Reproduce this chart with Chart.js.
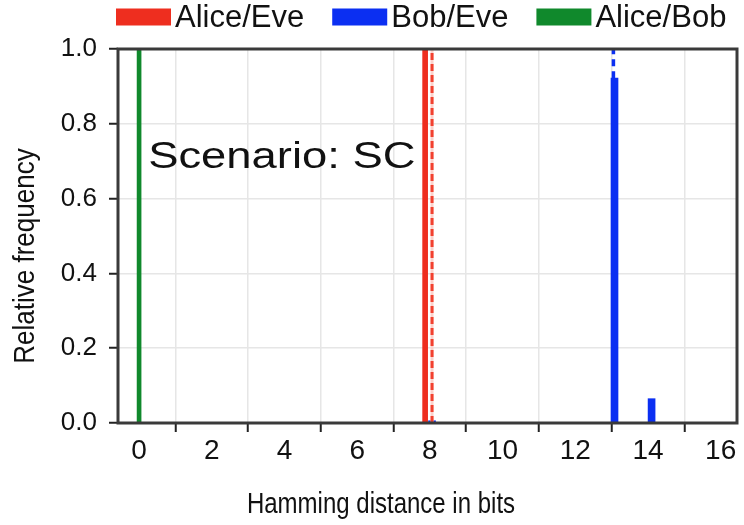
<!DOCTYPE html>
<html><head><meta charset="utf-8">
<script src="https://cdn.jsdelivr.net/npm/chart.js@4/dist/chart.umd.min.js"></script>
<style>html,body{margin:0;padding:0;background:#fff;}#wrap{width:744px;height:525px;position:relative}</style>
</head><body><div id="wrap"><canvas id="c" width="744" height="525"></canvas></div>
<script>
// ---- data ----
const seriesNames = ['Alice/Eve', 'Bob/Eve', 'Alice/Bob'];
const seriesColors = ['#ee2e1f', '#0b2ff2', '#10892c'];
const aliceEveX = [7.87];
const aliceEveY = [1.0];
const bobEveX = [8.06, 13.08, 14.1];
const bobEveY = [0.006, 0.922, 0.065];
const aliceBobX = [0];
const aliceBobY = [1.0];
const aliceEveDashX = [8.06, 8.06];
const aliceEveDashY = [0, 1.0];
const bobEveDashX = [13.05, 13.05];
const bobEveDashY = [0.922, 1.0];
const xTickValues = [0, 2, 4, 6, 8, 10, 12, 14, 16];
const yTickValues = [0, 0.2, 0.4, 0.6, 0.8, 1.0];
const xTitle = 'Hamming distance in bits';
const yTitle = 'Relative frequency';
const annotationText = 'Scenario: SC';

const FONT = "'Liberation Sans', Arial, sans-serif";
const pts = (xs, ys) => xs.map((x, i) => ({x: x, y: ys[i]}));

const framePlugin = {
  id: 'frame',
  afterDatasetsDraw(chart) {
    const {ctx, chartArea: a} = chart;
    ctx.save();
    ctx.strokeStyle = '#3a3a3a';
    ctx.lineWidth = 3;
    ctx.strokeRect(a.left, a.top, a.right - a.left, a.bottom - a.top);
    ctx.restore();
  }
};

const legendPlugin = {
  id: 'customLegend',
  afterDraw(chart) {
    const ctx = chart.ctx;
    ctx.save();
    ctx.font = '31px ' + FONT;
    ctx.textBaseline = 'middle';
    let x = 116;
    const y = 17, boxW = 55, boxH = 17;
    seriesNames.forEach((name, i) => {
      ctx.fillStyle = seriesColors[i];
      ctx.fillRect(x, y - boxH / 2, boxW, boxH);
      x += boxW + 4;
      ctx.fillStyle = '#111';
      ctx.fillText(name, x, y + 1);
      x += ctx.measureText(name).width + 28;
    });
    ctx.restore();
  }
};

const textPlugin = {
  id: 'texts',
  afterDraw(chart) {
    const ctx = chart.ctx;
    const xs = chart.scales.x, ys = chart.scales.y;
    ctx.save();
    ctx.fillStyle = '#111';
    // annotation
    ctx.save();
    ctx.font = '36px ' + FONT;
    ctx.textBaseline = 'alphabetic';
    ctx.translate(xs.getPixelForValue(0.25), ys.getPixelForValue(0.681));
    ctx.scale(1.26, 1);
    ctx.fillText(annotationText, 0, 0);
    ctx.restore();
    // x title
    ctx.save();
    ctx.font = '24px ' + FONT;
    ctx.textAlign = 'center';
    ctx.textBaseline = 'middle';
    ctx.translate(381, 505);
    ctx.scale(1, 1.25);
    ctx.fillText(xTitle, 0, 0);
    ctx.restore();
    // y title
    ctx.save();
    ctx.font = '26px ' + FONT;
    ctx.textAlign = 'center';
    ctx.textBaseline = 'middle';
    ctx.translate(26, 256);
    ctx.rotate(-Math.PI / 2);
    ctx.scale(1, 1.15);
    ctx.fillText(yTitle, 0, 0);
    ctx.restore();
    ctx.restore();
  }
};

new Chart(document.getElementById('c'), {
  type: 'bar',
  data: {
    datasets: [
      {type: 'line', data: pts(aliceEveDashX, aliceEveDashY), borderColor: '#f2402f', borderWidth: 3, borderDash: [7, 4], pointRadius: 0},
      {type: 'line', data: pts(aliceEveDashX, aliceEveDashY), borderColor: '#fcd2cc', borderWidth: 3, pointRadius: 0},
      {type: 'line', data: pts(bobEveDashX, bobEveDashY), borderColor: seriesColors[1], borderWidth: 3.5, borderDash: [7, 5], pointRadius: 0},
      {label: seriesNames[0], data: pts(aliceEveX, aliceEveY), backgroundColor: seriesColors[0], barThickness: 5, grouped: false},
      {label: seriesNames[1], data: pts(bobEveX, bobEveY), backgroundColor: seriesColors[1], barThickness: 7, grouped: false},
      {label: seriesNames[2], data: pts(aliceBobX, aliceBobY), backgroundColor: seriesColors[2], barThickness: 4, grouped: false}
    ]
  },
  options: {
    responsive: false,
    animation: false,
    layout: {padding: {top: 49, right: 7, left: 0, bottom: 0}},
    plugins: {legend: {display: false}, tooltip: {enabled: false}},
    scales: {
      x: {
        type: 'linear', min: -0.58, max: 16.45, offset: false,
        afterBuildTicks: s => { s.ticks = xTickValues.map(v => ({value: v})); },
        afterFit: s => { s.height = 102; },
        grid: {color: '#e6e6e6', lineWidth: 1.5, tickColor: '#222', tickLength: 9, tickWidth: 2},
        border: {display: false},
        ticks: {font: {family: FONT, size: 28}, color: '#111', padding: 2, maxRotation: 0}
      },
      y: {
        min: 0, max: 1,
        afterBuildTicks: s => { s.ticks = yTickValues.map(v => ({value: v})); },
        afterFit: s => { s.width = 118; },
        grid: {color: '#e6e6e6', lineWidth: 1.5, tickColor: '#222', tickLength: 9, tickWidth: 2},
        border: {display: false},
        ticks: {font: {family: FONT, size: 26}, color: '#111', padding: 12, callback: v => Number(v).toFixed(1)}
      }
    }
  },
  plugins: [framePlugin, legendPlugin, textPlugin]
});
</script></body></html>
